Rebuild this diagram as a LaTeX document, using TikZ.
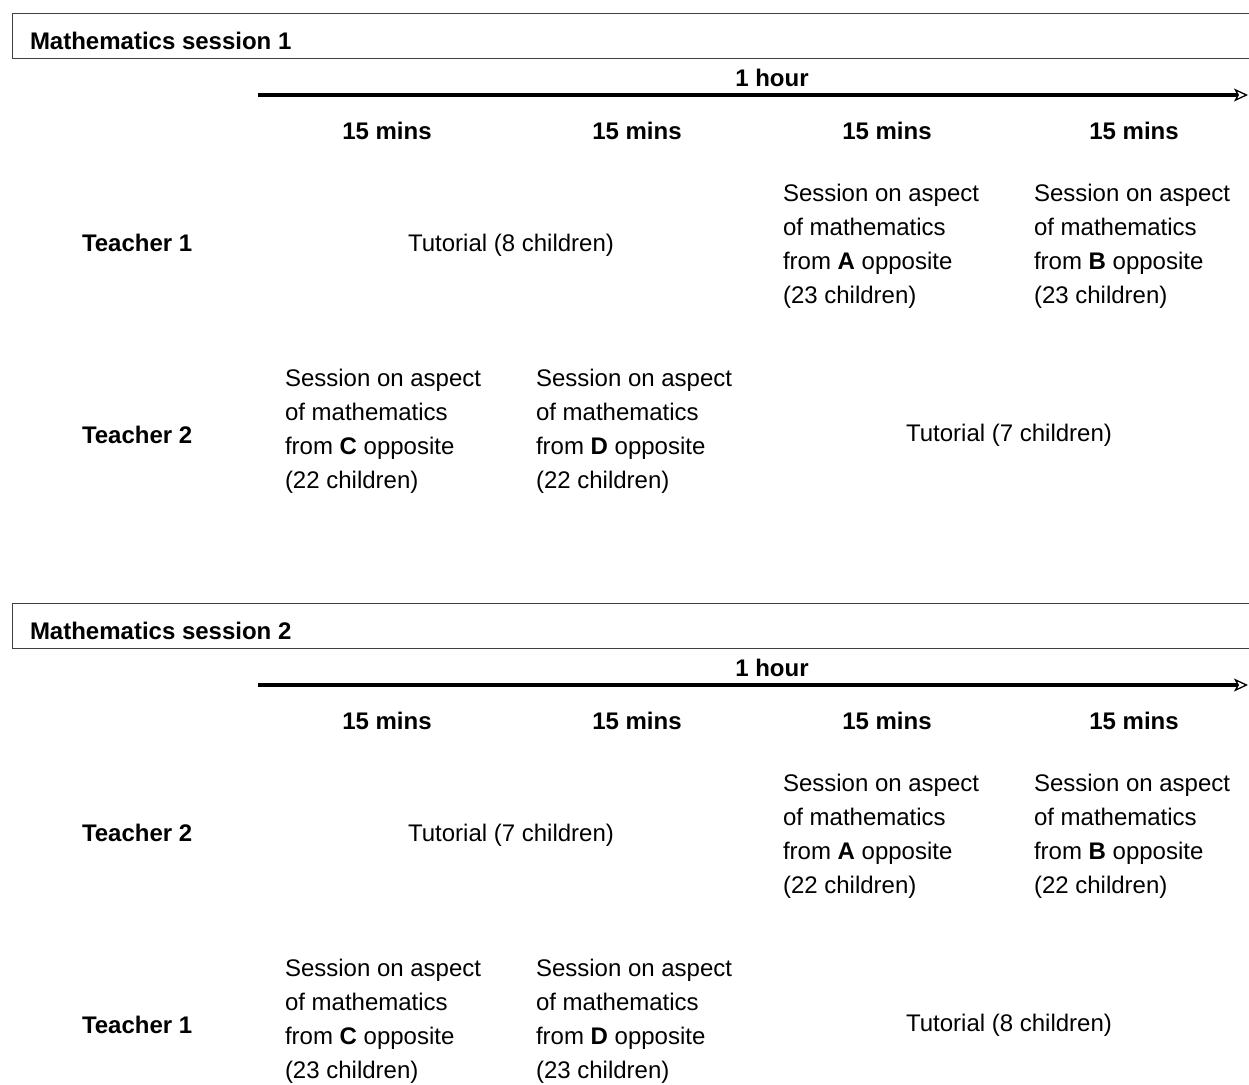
\documentclass[tikz,border=0pt]{standalone}
\usepackage{fontspec}
\setmainfont{Liberation Sans}
\usetikzlibrary{arrows.meta}
\begin{document}
\begin{tikzpicture}[x=1pt,y=-1pt,
  txt/.style={font=\fontsize{24}{34.2}\selectfont, inner sep=0pt, outer sep=0pt},
  bold/.style={txt, font=\fontsize{24}{34.2}\selectfont\bfseries},
  blk/.style={txt, align=left, anchor=base west},
  hdrbox/.style={draw=black!75, line width=0.8pt},
  timeline/.style={line width=3.4pt, -{Stealth[open, length=14pt, width=13pt, inset=3.5pt, line width=1.3pt]}}
]
\useasboundingbox (0,0) rectangle (1249,1084);

\foreach \s/\oy/\ta/\tb/\na/\nb/\tua/\tub in
  {1/0/1/2/23/22/8/7, 2/590/2/1/22/23/7/8} {
  \begin{scope}[yshift=-\oy pt]
    % header box
    \draw[hdrbox] (1249,13) -- (12,13) -- (12,58) -- (1249,58);
    \node[bold, anchor=base west] (title\s) at (30,49) {Mathematics session \s};
    % time line
    \coordinate (tls\s) at (258,95);
    \coordinate (tle\s) at (1248,95);
    \draw[timeline] (tls\s) -- (tle\s);
    \node[bold, anchor=base] (hour\s) at (772,86) {1 hour};
    \node[bold, anchor=base] (qa\s) at (387,139.5) {15 mins};
    \node[bold, anchor=base] (qb\s) at (637,139.5) {15 mins};
    \node[bold, anchor=base] (qc\s) at (887,139.5) {15 mins};
    \node[bold, anchor=base] (qd\s) at (1134,139.5) {15 mins};
    % first row (base anchor = baseline of last line)
    \node[bold, anchor=base west] (tA\s) at (82,251.5) {Teacher \ta};
    \node[txt, anchor=base] (tutA\s) at (511,251.5) {Tutorial (\tua\ children)};
    \node[blk] (sA\s) at (783,303.6) {Session on aspect\\of mathematics\\from \textbf{A} opposite\\(\na\ children)};
    \node[blk] (sB\s) at (1034,303.6) {Session on aspect\\of mathematics\\from \textbf{B} opposite\\(\na\ children)};
    % second row
    \node[bold, anchor=base west] (tB\s) at (82,443.5) {Teacher \tb};
    \node[blk] (sC\s) at (285,488.6) {Session on aspect\\of mathematics\\from \textbf{C} opposite\\(\nb\ children)};
    \node[blk] (sD\s) at (536,488.6) {Session on aspect\\of mathematics\\from \textbf{D} opposite\\(\nb\ children)};
    \node[txt, anchor=base] (tutB\s) at (1009,441.5) {Tutorial (\tub\ children)};
  \end{scope}
}
\end{tikzpicture}
\end{document}
